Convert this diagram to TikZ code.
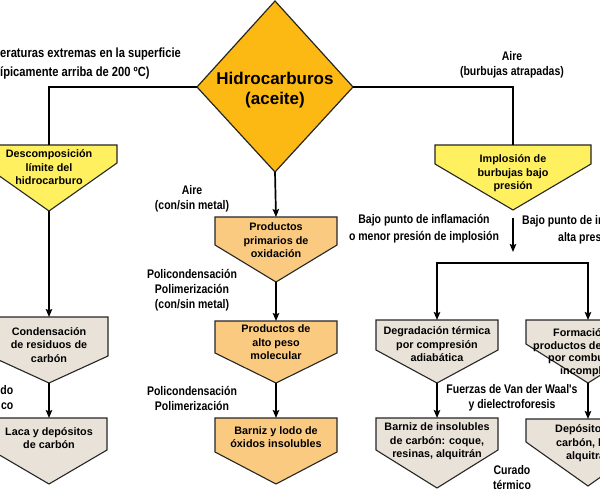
\documentclass[tikz,border=0pt]{standalone}
\usepackage{fontspec}
\setmainfont{Liberation Sans}
\newfontfamily\narrowfont{Liberation Sans}[FakeStretch=0.84]
\usetikzlibrary{arrows.meta}
\definecolor{diamc}{RGB}{253,185,19}
\definecolor{ylw}{RGB}{255,240,95}
\definecolor{org}{RGB}{250,202,128}
\definecolor{gry}{RGB}{233,226,216}
\tikzset{
  conn/.style={line width=1.7pt, draw=black},
  arr/.style={conn, -{Stealth[length=8pt,width=6.5pt,inset=1.5pt]}},
  boxtxt/.style={font=\fontsize{10.8}{13.5}\selectfont\bfseries, align=center, inner sep=0pt},
  lbl/.style={font=\narrowfont\fontsize{12.5}{15}\selectfont\bfseries, align=center, inner sep=0pt},
  lblbig/.style={font=\narrowfont\fontsize{13.3}{15}\selectfont\bfseries, inner sep=0pt},
  pentabd/.style={draw=black!85, line width=1.1pt},
  diambd/.style={draw=black!85, line width=1.2pt, fill=diamc},
  diamtxt/.style={font=\fontsize{17}{20}\selectfont\bfseries, align=center, inner sep=0pt},
}
\newcommand\mkpenta[7]{%
  \draw[pentabd, fill=#7] ({#2-#4},#3) -- ({#2+#4},#3) -- ({#2+#4},#5) -- (#2,#6) -- ({#2-#4},#5) -- cycle;
  \coordinate (#1-t) at (#2,#3);
  \coordinate (#1-b) at (#2,#6);
}
\begin{document}
\begin{tikzpicture}[x=1pt,y=-1pt]
\useasboundingbox (0,0) rectangle (600,500);
\clip (0,0) rectangle (600,500);
\fill[white] (0,0) rectangle (600,500);

% diamond
\draw[diambd] (275,1) -- (353,87) -- (275,172) -- (197,87) -- cycle;
\coordinate (hcL) at (197,87);
\coordinate (hcR) at (353,87);
\coordinate (hcB) at (275,172);
\node[diamtxt] (hc) at (275,90) {Hidrocarburos\\(aceite)};

% boxes
\mkpenta{desc}{49}{145}{68}{163}{211}{ylw}
\node[boxtxt] (desct) at (49,167.5) {Descomposición\\límite del\\hidrocarburo};
\mkpenta{cond}{49}{317}{59}{356}{383}{gry}
\node[boxtxt] (condt) at (49,345) {Condensación\\de residuos de\\carbón};
\mkpenta{laca}{49}{418}{58}{450}{484}{gry}
\node[boxtxt] (lacat) at (49,438) {Laca y depósitos\\de carbón};

\mkpenta{prim}{276}{217}{61}{245}{282}{org}
\node[boxtxt] (primt) at (276,240.5) {Productos\\primarios de\\oxidación};
\mkpenta{alto}{276}{321}{61}{353}{383}{org}
\node[boxtxt] (altot) at (276,342.5) {Productos de\\alto peso\\molecular};
\mkpenta{barl}{276}{418}{61}{452}{484}{org}
\node[boxtxt] (barlt) at (276,437) {Barniz y lodo de\\óxidos insolubles};

\mkpenta{impl}{513}{145}{78}{164}{210}{ylw}
\node[boxtxt] (implt) at (513,173.5) {Implosión de\\burbujas bajo\\presión};
\mkpenta{degr}{437}{320}{61}{350}{383}{gry}
\node[boxtxt] (degrt) at (437,344.5) {Degradación térmica\\por compresión\\adiabática};
\mkpenta{bari}{437}{418}{61}{450}{488}{gry}
\node[boxtxt] (barit) at (437,441.5) {Barniz de insolubles\\de carbón: coque,\\resinas, alquitrán};
\mkpenta{form}{588}{320}{62}{344}{383}{gry}
\node[boxtxt, anchor=base west] (form1) at (553,336) {Formació};
\node[boxtxt, anchor=base west] (form2) at (533,349) {productos de};
\node[boxtxt, anchor=base west] (form3) at (548,361.5) {por combu};
\node[boxtxt, anchor=base west] (form4) at (560,374) {incomple};
\mkpenta{depo}{588}{419}{62}{442}{486}{gry}
\node[boxtxt, anchor=base west] (depo1) at (555,432) {Depósitos};
\node[boxtxt, anchor=base west] (depo2) at (556,446) {carbón, lo};
\node[boxtxt, anchor=base west] (depo3) at (566,459) {alquitrá};

% coordinates for free ends
\coordinate (implS) at (513,218);
\coordinate (implE) at (513,252);
\coordinate (barM) at (513,263);

% connectors
\draw[conn] (hcL) -| (desc-t);
\draw[conn] (hcR) -| (impl-t);
\draw[arr] (hcB) -- (prim-t);
\draw[arr] (desc-b) -- (cond-t);
\draw[arr] (cond-b) -- (laca-t);
\draw[arr] (prim-b) -- (alto-t);
\draw[arr] (alto-b) -- (barl-t);
\draw[arr] (implS) -- (implE);
\draw[arr] (barM) -| (degr-t);
\draw[arr] (barM) -| (form-t);
\draw[arr] (degr-b) -- (bari-t);
\draw[arr] (form-b) -- (depo-t);

% labels
\node[lblbig, anchor=base west] (tl1) at (0,57.5) {eraturas extremas en la superficie};
\node[lblbig, anchor=base west] (tl2) at (0,76.5) {ípicamente arriba de 200 ºC)};
\node[lbl] (airB) at (512,64.5) {Aire\\(burbujas atrapadas)};
\node[lbl] (airM) at (192,199) {Aire\\(con/sin metal)};
\node[lbl] (poli1) at (192,290) {Policondensación\\Polimerización\\(con/sin metal)};
\node[lbl] (poli2) at (192,398) {Policondensación\\Polimerización};
\node[lbl, font=\narrowfont\fontsize{12.5}{16.5}\selectfont\bfseries] (bajo1) at (424,228.5) {Bajo punto de inflamación\\o menor presión de implosión};
\node[lbl, anchor=base west] (bajo2a) at (522,224.5) {Bajo punto de in};
\node[lbl, anchor=base west] (bajo2b) at (558,241.5) {alta pres};
\node[lbl] (fuer) at (512,397.5) {Fuerzas de Van der Waal's\\y dielectroforesis};
\node[lbl] (cur) at (512,477.5) {Curado\\térmico};
\node[lbl, anchor=east, align=right] (curL) at (13.5,398) {do\\co};
\end{tikzpicture}
\end{document}
